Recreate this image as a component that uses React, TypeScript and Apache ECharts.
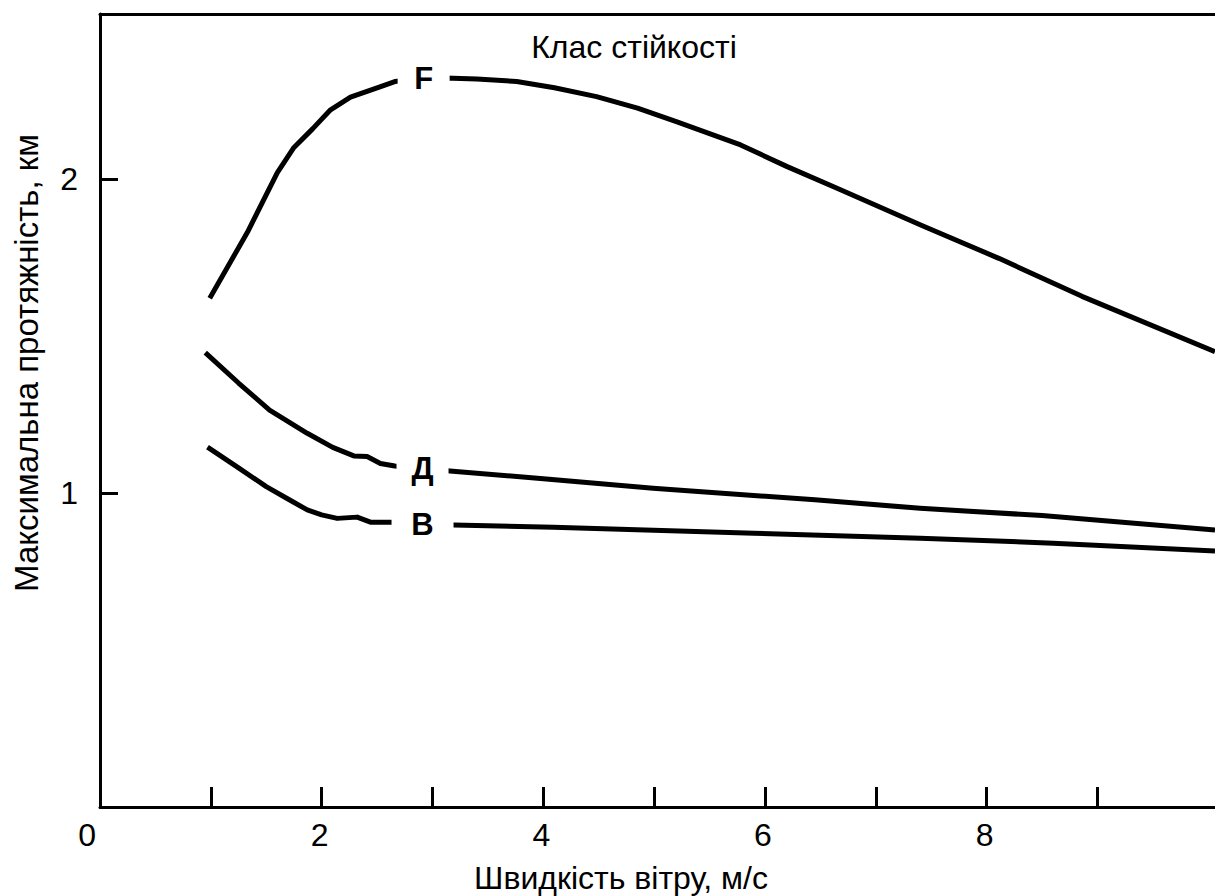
import React, { useEffect, useRef } from "react";
import * as echarts from "echarts";

// Wind speed (m/s) and maximum extent (km) for each stability class
const xF = [0.99, 1.33, 1.6, 1.75, 1.92, 2.08, 2.26, 2.5, 2.66, 2.92, 3.11, 3.4, 3.76, 4.1, 4.48, 4.85, 5.2, 5.78, 6.2, 6.65, 7.42, 8.11, 8.86, 10.06];
const yF = [1.62, 1.83, 2.02, 2.1, 2.16, 2.22, 2.26, 2.29, 2.31, 2.32, 2.321, 2.318, 2.31, 2.29, 2.262, 2.225, 2.182, 2.108, 2.039, 1.97, 1.851, 1.747, 1.626, 1.45];

const xD = [0.95, 1.25, 1.53, 1.87, 2.1, 2.29, 2.41, 2.53, 2.66, 2.92, 3.13, 4.0, 4.99, 6.45, 7.4, 8.5, 10.06];
const yD = [1.447, 1.35, 1.264, 1.19, 1.145, 1.118, 1.116, 1.094, 1.086, 1.078, 1.071, 1.045, 1.015, 0.978, 0.951, 0.928, 0.882];

const xB = [0.97, 1.25, 1.5, 1.7, 1.87, 2.0, 2.14, 2.32, 2.44, 2.62, 2.92, 3.19, 4.09, 5.9, 7.4, 8.6, 10.06];
const yB = [1.146, 1.08, 1.02, 0.98, 0.946, 0.93, 0.919, 0.923, 0.907, 0.907, 0.902, 0.898, 0.891, 0.872, 0.856, 0.84, 0.815];

const classNames = ["F", "Д", "В"];
const labelX = [2.92, 2.91, 2.91];
const labelY = [2.32, 1.077, 0.9];

const xTicks = [1, 2, 3, 4, 5, 6, 7, 8, 9];
const xTickLabels = [0, 2, 4, 6, 8];
const yTicks = [1, 2];

const title = "Клас стійкості";
const xName = "Швидкість вітру, м/с";
const yName = "Максимальна протяжність, км";

const FONT = "'Liberation Sans', Arial, sans-serif";

export default function App() {
  const ref = useRef<HTMLDivElement>(null);

  useEffect(() => {
    if (!ref.current) return;
    const chart = echarts.init(ref.current, null, { renderer: "svg" });

    const xs = [xF, xD, xB];
    const ys = [yF, yD, yB];
    const gapWidths = [52, 52, 62];

    const series = classNames.map((name, i) => ({
      type: "line",
      name,
      data: xs[i].map((x, j) => [x, ys[i][j]]),
      showSymbol: false,
      symbol: "none",
      smooth: false,
      lineStyle: { color: "#000", width: 5, join: "round", cap: "butt" },
      z: 2,
      markPoint: {
        symbol: "rect",
        symbolSize: [gapWidths[i], 36],
        itemStyle: { color: "#fff" },
        label: {
          show: true,
          position: "inside",
          formatter: name,
          color: "#000",
          fontFamily: FONT,
          fontWeight: "bold",
          fontSize: 31,
        },
        data: [{ coord: [labelX[i], labelY[i]] }],
      },
    }));

    chart.setOption({
      animation: false,
      backgroundColor: "#fff",
      grid: { left: 100, right: 0, top: 14, bottom: 89, containLabel: false, outerBoundsMode: "none" },
      xAxis: [
        {
          type: "value",
          min: 0,
          max: 10.06,
          position: "bottom",
          axisLine: { show: true, onZero: false, lineStyle: { color: "#000", width: 3 } },
          axisTick: { show: true, inside: true, length: 20, customValues: xTicks, lineStyle: { color: "#000", width: 3 } },
          axisLabel: {
            show: true,
            customValues: xTickLabels,
            fontSize: 32,
            fontFamily: FONT,
            color: "#000",
            margin: 12,
            alignMinLabel: "right",
            padding: [0, 4, 0, 0],
          },
          splitLine: { show: false },
        },
        {
          type: "value",
          min: 0,
          max: 10.06,
          position: "top",
          axisLine: { show: true, onZero: false, lineStyle: { color: "#000", width: 3 } },
          axisTick: { show: false },
          axisLabel: { show: false },
          splitLine: { show: false },
        },
      ],
      yAxis: {
        type: "value",
        min: 0,
        max: 2.525,
        axisLine: { show: true, onZero: false, lineStyle: { color: "#000", width: 3 } },
        axisTick: { show: true, inside: true, length: 18, customValues: yTicks, lineStyle: { color: "#000", width: 3 } },
        axisLabel: {
          show: true,
          customValues: yTicks,
          fontSize: 32,
          fontFamily: FONT,
          color: "#000",
          margin: 22,
        },
        splitLine: { show: false },
      },
      graphic: [
        {
          type: "text",
          x: 634,
          y: 47,
          style: { text: title, fontSize: 32, fontFamily: FONT, fill: "#000", align: "center", verticalAlign: "middle" },
        },
        {
          type: "text",
          x: 621,
          y: 878,
          style: { text: xName, fontSize: 32, fontFamily: FONT, fill: "#000", align: "center", verticalAlign: "middle" },
        },
        {
          type: "text",
          x: 26,
          y: 363,
          rotation: Math.PI / 2,
          style: { text: yName, fontSize: 33, fontFamily: FONT, fill: "#000", align: "center", verticalAlign: "middle" },
        },
      ],
      series,
    });

    return () => chart.dispose();
  }, []);

  return (
    <div
      ref={ref}
      style={{ position: "fixed", left: 0, top: 0, width: 1215, height: 896, background: "#fff" }}
    />
  );
}
